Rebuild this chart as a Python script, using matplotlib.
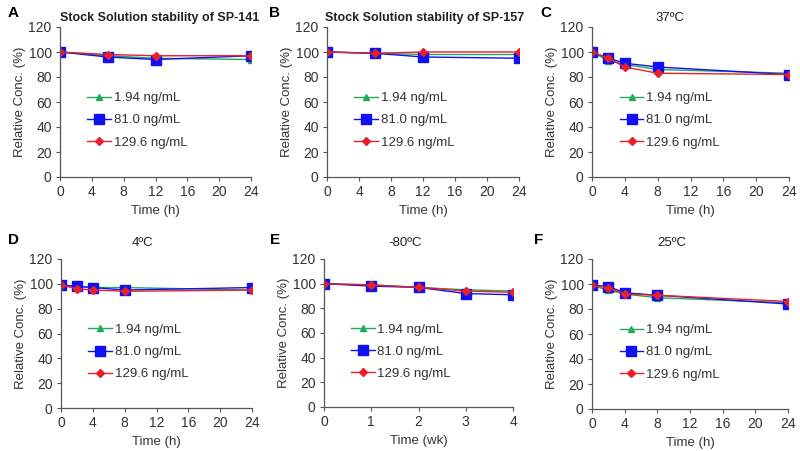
import matplotlib
matplotlib.use('Agg')
import matplotlib.pyplot as plt

plt.rcParams['font.family'] = ['Liberation Sans', 'DejaVu Sans']

labels = ['1.94 ng/mL', '81.0 ng/mL', '129.6 ng/mL']

# panel A: stock solution SP-141
t_a = [0, 6, 12, 24]
a_low = [100, 97, 95, 94]
a_mid = [100, 96, 94, 97]
a_high = [100, 98, 97, 97]

# panel B: stock solution SP-157
t_b = [0, 6, 12, 24]
b_low = [100, 99, 98, 98]
b_mid = [100, 99, 96, 95]
b_high = [100, 99, 100, 100]

# panel C: 37 C
t_c = [0, 2, 4, 8, 24]
c_low = [100, 93, 90, 86, 83]
c_mid = [100, 95, 91, 88, 82]
c_high = [100, 95, 88, 83, 82]

# panel D: 4 C
t_d = [0, 2, 4, 8, 24]
d_low = [99, 98, 97, 97, 95]
d_mid = [99, 98, 97, 95, 97]
d_high = [99, 96, 95, 94, 95]

# panel E: -80 C (weeks)
t_e = [0, 1, 2, 3, 4]
e_low = [100, 99, 97, 95, 94]
e_mid = [100, 98, 97, 92, 91]
e_high = [100, 99, 97, 94, 93]

# panel F: 25 C
t_f = [0, 2, 4, 8, 24]
f_low = [99, 95, 92, 89, 85]
f_mid = [99, 98, 93, 91, 84]
f_high = [99, 97, 92, 91, 86]

W, H = 800, 451
fig = plt.figure(figsize=(8, 4.51), dpi=100)

green = '#22a85a'
blue = '#1010f0'
red = '#e8202a'


def px_axes(x0, x1, y_top, y_bot):
    return fig.add_axes([x0 / W, 1 - y_bot / H, (x1 - x0) / W, (y_bot - y_top) / H])


panels = [
    # letter, title, bold title, t, series, xmax, xticks, xlabel, axes px, letter px, title px
    ('A', 'Stock Solution stability of SP-141', True, t_a, (a_low, a_mid, a_high), 24,
     range(0, 25, 4), 'Time (h)', (60, 251, 27, 177), (8, 13), (160, 18)),
    ('B', 'Stock Solution stability of SP-157', True, t_b, (b_low, b_mid, b_high), 24,
     range(0, 25, 4), 'Time (h)', (327, 519, 27, 177), (269, 13), (425, 18)),
    ('C', '37ºC', False, t_c, (c_low, c_mid, c_high), 24,
     range(0, 25, 4), 'Time (h)', (592, 789, 27, 177), (540, 13), (670, 18)),
    ('D', '4ºC', False, t_d, (d_low, d_mid, d_high), 24,
     range(0, 25, 4), 'Time (h)', (61, 252, 259, 408), (8, 240), (142, 243)),
    ('E', '-80ºC', False, t_e, (e_low, e_mid, e_high), 4,
     range(0, 5), 'Time (wk)', (324, 513, 259, 407), (270, 240), (405, 243)),
    ('F', '25ºC', False, t_f, (f_low, f_mid, f_high), 24,
     range(0, 25, 4), 'Time (h)', (592, 788, 259, 409), (534, 240), (672, 243)),
]

for letter, title, bold, t, series, xmax, xticks, xlabel, box, lpos, tpos in panels:
    ax = px_axes(*box)
    low, mid, high = series
    ax.plot(t, low, color=green, marker='^', ms=5, lw=1, label=labels[0])
    ax.plot(t, mid, color=blue, marker='s', ms=6.5, lw=1, label=labels[1])
    ax.plot(t, high, color=red, marker='D', ms=4.5, lw=1, label=labels[2])
    ax.set_xlim(0, xmax)
    ax.set_ylim(0, 120)
    ax.set_xticks(list(xticks))
    ax.set_yticks(range(0, 121, 20))
    ax.spines['top'].set_visible(False)
    ax.spines['right'].set_visible(False)
    for s in ('left', 'bottom'):
        ax.spines[s].set_color('#555555')
        ax.spines[s].set_linewidth(0.9)
    ax.tick_params(direction='out', length=3, width=0.8, colors='#555555',
                   labelcolor='#333333', labelsize=10, pad=3)
    ax.set_xlabel(xlabel, fontsize=9.5, color='#333333', labelpad=4)
    ax.set_ylabel('Relative Conc. (%)', fontsize=9.5, color='#333333', labelpad=2)
    ax.patch.set_visible(False)
    ax.legend(loc='upper left', bbox_to_anchor=(0.08, 0.645), frameon=False,
              fontsize=9.5, labelspacing=0.75, handlelength=1.8, handletextpad=0.2,
              labelcolor='#333333')
    fig.text(lpos[0] / W, 1 - lpos[1] / H, letter, fontsize=11, fontweight='bold',
             va='center', ha='left')
    fig.text(tpos[0] / W, 1 - tpos[1] / H, title, fontsize=9 if bold else 9.5,
             fontweight='bold' if bold else 'normal', va='center', ha='center',
             color='#222222')

fig.savefig('out.png', dpi=100)
